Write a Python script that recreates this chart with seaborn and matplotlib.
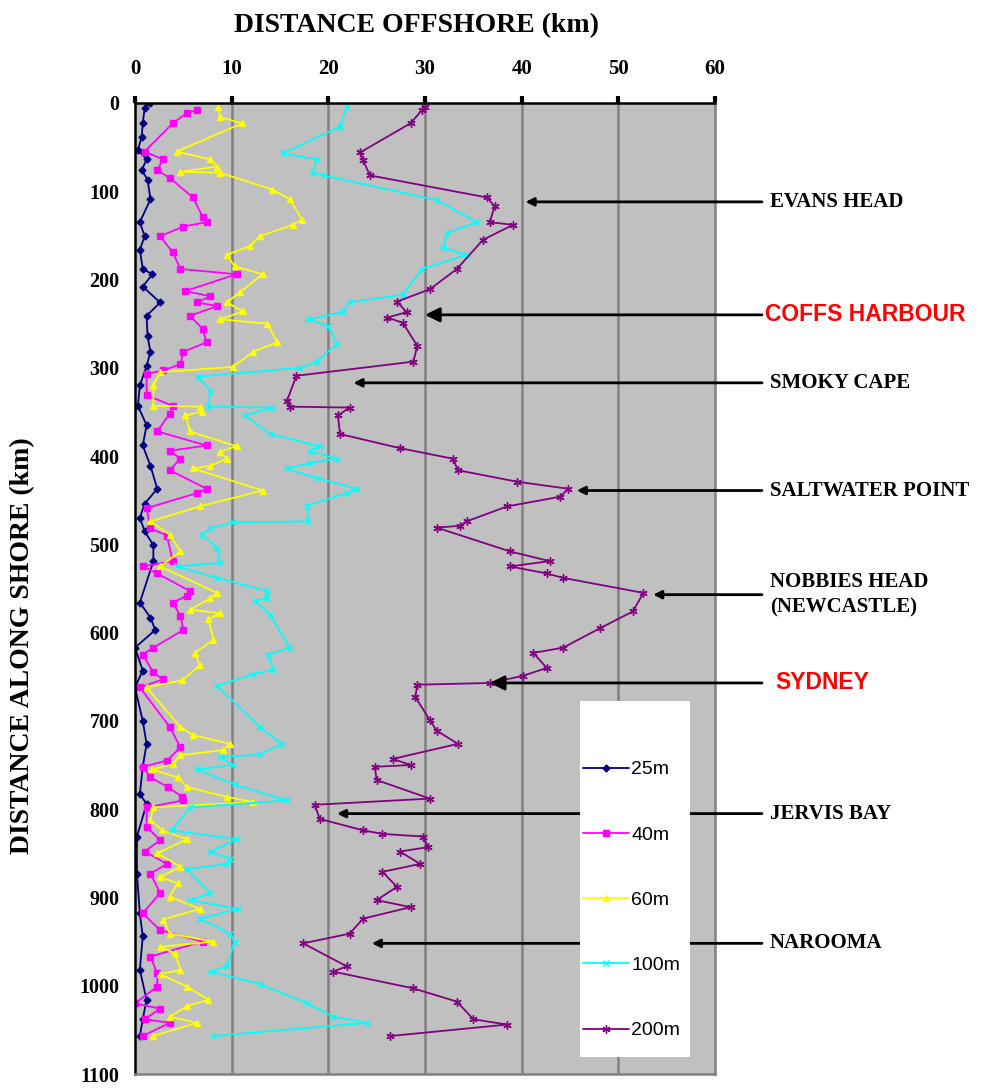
import pandas as pd
import matplotlib.pyplot as plt
import seaborn as sns
from matplotlib.patches import Rectangle

# (distance along shore km, distance offshore km)
depth_25m = [(0, 1.5), (6, 1.0), (23, 0.8), (38, 0.7), (53, 0.3), (64, 1.2), (76, 0.7), (87, 1.3),
             (109, 1.6), (135, 0.5), (151, 1.0), (166, 0.5), (188, 0.8), (194, 1.8), (208, 0.8),
             (226, 2.6), (241, 1.2), (264, 1.3), (282, 1.6), (298, 1.2), (320, 0.5), (343, 0.3),
             (365, 1.2), (388, 0.8), (411, 1.6), (437, 2.3), (454, 1.0), (470, 0.5), (485, 1.0),
             (501, 1.9), (519, 1.9), (566, 0.5), (583, 1.6), (597, 2.1), (617, 0.0), (643, 0.8),
             (662, 0.0), (700, 0.8), (726, 1.2), (752, 0.8), (783, 0.5), (794, 1.2), (831, 0.2),
             (873, 0.2), (918, 0.5), (944, 0.8), (982, 0.5), (1016, 1.2), (1038, 0.8), (1057, 0.5)]

depth_40m = [(8, 6.4), (11, 5.4), (23, 3.9), (55, 1.0), (64, 2.9), (76, 2.3), (85, 3.6), (107, 6.0),
             (129, 7.0), (135, 7.4), (140, 5.0), (151, 2.6), (169, 3.9), (188, 4.7), (194, 10.5),
             (213, 5.2), (219, 7.8), (226, 6.4), (230, 8.5), (241, 5.7), (256, 7.0), (271, 7.4),
             (282, 5.0), (296, 4.7), (303, 2.9), (307, 1.2), (331, 1.2), (343, 3.9), (352, 3.6),
             (372, 2.3), (388, 7.4), (394, 3.6), (403, 4.7), (416, 3.6), (437, 7.4), (442, 6.4),
             (459, 1.2), (482, 1.6), (490, 3.3), (519, 3.9), (525, 0.8), (533, 2.3), (553, 5.7),
             (558, 5.4), (566, 3.9), (581, 4.7), (597, 5.0), (617, 1.9), (625, 0.8), (645, 1.9),
             (653, 2.9), (662, 0.5), (707, 3.6), (730, 4.7), (745, 3.3), (752, 0.8), (764, 1.6),
             (775, 3.4), (786, 4.9), (790, 5.0), (798, 1.2), (820, 1.2), (835, 2.6), (848, 1.0),
             (862, 3.3), (873, 1.6), (895, 2.6), (918, 0.8), (937, 2.6), (950, 7.0), (967, 1.6),
             (986, 2.3), (1001, 2.3), (1020, 0.0), (1026, 2.6), (1038, 1.0), (1042, 3.6), (1057, 0.8)]

depth_60m = [(4, 8.6), (16, 8.8), (23, 11.1), (55, 4.3), (64, 7.8), (72, 8.5), (78, 4.7), (79, 8.8),
             (98, 14.2), (109, 16.0), (132, 17.3), (138, 16.3), (151, 12.9), (162, 11.9), (172, 9.5),
             (185, 10.3), (194, 13.2), (214, 10.9), (226, 9.5), (236, 11.2), (245, 8.8), (250, 13.7),
             (271, 14.7), (282, 12.2), (299, 10.1), (305, 2.6), (320, 1.9), (343, 1.9), (344, 6.7),
             (350, 6.9), (354, 5.2), (372, 5.7), (389, 10.5), (395, 8.8), (403, 9.5), (411, 7.8),
             (414, 6.0), (439, 13.2), (457, 6.7), (474, 1.6), (489, 3.6), (508, 4.7), (525, 2.6),
             (555, 8.5), (561, 7.8), (574, 5.7), (578, 8.8), (585, 7.6), (608, 8.1), (623, 6.2),
             (637, 6.7), (654, 4.9), (662, 1.2), (707, 4.7), (716, 6.0), (726, 9.8), (733, 9.1),
             (739, 4.7), (749, 3.9), (755, 1.8), (764, 4.4), (775, 5.4), (786, 9.5), (792, 12.2),
             (798, 1.9), (812, 1.6), (824, 2.8), (834, 5.4), (850, 2.3), (865, 4.7), (877, 2.6),
             (884, 4.4), (899, 3.6), (913, 6.7), (925, 2.9), (941, 3.6), (950, 8.1), (956, 2.6),
             (963, 4.1), (982, 4.7), (987, 2.6), (1001, 5.4), (1016, 7.6), (1023, 5.4), (1035, 3.6),
             (1042, 6.4), (1057, 1.9)]

depth_100m = [(4, 21.9), (27, 21.2), (57, 15.3), (64, 18.8), (79, 18.4), (82, 19.5), (110, 31.2),
              (135, 35.4), (147, 32.3), (164, 31.9), (172, 34.3), (188, 29.7), (217, 27.7), (226, 22.2),
              (237, 21.5), (245, 17.9), (253, 20.0), (273, 20.9), (293, 18.8), (300, 17.1), (310, 6.5),
              (326, 7.8), (344, 7.6), (345, 14.2), (354, 11.4), (375, 14.0), (389, 19.1), (394, 18.1),
              (403, 20.9), (408, 18.1), (414, 15.7), (425, 18.8), (437, 23.0), (442, 21.9), (456, 17.8),
              (474, 17.9), (475, 10.1), (482, 7.8), (489, 6.9), (504, 8.5), (521, 8.8), (525, 4.3),
              (538, 8.5), (553, 13.7), (561, 13.7), (564, 12.4), (580, 14.0), (617, 16.0), (625, 13.8),
              (642, 14.3), (647, 12.2), (660, 8.5), (707, 12.9), (726, 15.2), (738, 12.9), (741, 8.8),
              (750, 10.1), (755, 6.4), (772, 10.3), (790, 15.7), (798, 5.7), (824, 3.8), (834, 10.6),
              (848, 7.8), (856, 9.8), (862, 9.5), (868, 5.4), (895, 7.8), (903, 5.7), (913, 10.7),
              (924, 6.7), (941, 9.8), (950, 10.3), (978, 9.5), (984, 7.8), (998, 12.9), (1020, 17.8),
              (1035, 20.5), (1042, 24.0), (1057, 8.1)]

depth_200m = [(5, 30.0), (8, 29.7), (23, 28.5), (56, 23.3), (65, 23.6), (82, 24.3), (107, 36.4),
              (117, 37.2), (135, 36.7), (138, 39.1), (155, 36.0), (188, 33.3), (211, 30.5), (225, 27.1),
              (237, 28.1), (243, 26.1), (249, 27.7), (275, 29.2), (293, 28.8), (309, 16.7), (338, 15.7),
              (344, 16.0), (345, 22.2), (354, 21.0), (375, 21.2), (391, 27.4), (403, 32.9), (416, 33.4),
              (429, 39.5), (437, 44.8), (446, 44.0), (457, 38.5), (474, 34.3), (479, 33.6), (481, 31.2),
              (508, 38.8), (519, 42.9), (525, 38.8), (533, 42.6), (538, 44.3), (555, 52.6), (576, 51.5),
              (595, 48.1), (617, 44.3), (623, 41.2), (640, 42.6), (649, 40.1), (657, 36.7), (659, 29.2),
              (673, 29.0), (699, 30.5), (711, 31.2), (726, 33.4), (743, 26.7), (750, 28.5), (752, 24.8),
              (767, 25.0), (788, 30.5), (795, 18.6), (811, 19.1), (824, 23.6), (828, 25.6), (831, 29.8),
              (843, 30.3), (848, 27.4), (862, 29.5), (871, 25.6), (888, 27.1), (903, 25.0), (911, 28.5),
              (924, 23.6), (941, 22.2), (952, 17.4), (978, 21.9), (984, 20.5), (1003, 28.8),
              (1018, 33.3), (1038, 35.0), (1044, 38.5), (1057, 26.4)]

series_labels = ['25m', '40m', '60m', '100m', '200m']
series_colors = ['#000080', '#FF00FF', '#FFFF00', '#00FFFF', '#800080']
series_markers = ['D', 's', '^', 'x', (6, 2, 0)]
series_msize = [3.5, 5, 5, 5, 6]

# place name, (offshore, along) of arrow head, label colour
places = [('EVANS HEAD', 40.4, 112, 'black'),
          ('COFFS HARBOUR', 30.0, 240, 'red'),
          ('SMOKY CAPE', 22.6, 317, 'black'),
          ('SALTWATER POINT', 45.7, 439, 'black'),
          ('NOBBIES HEAD\n(NEWCASTLE)', 53.6, 557, 'black'),
          ('SYDNEY', 36.7, 657, 'red'),
          ('JERVIS BAY', 20.9, 805, 'black'),
          ('NAROOMA', 24.5, 952, 'black')]

sns.set_style('white')
plt.rcParams['font.family'] = ['Liberation Serif', 'DejaVu Serif']
plt.rcParams['text.color'] = 'black'
plt.rcParams['axes.labelcolor'] = 'black'
plt.rcParams['xtick.color'] = 'black'
plt.rcParams['ytick.color'] = 'black'

fig = plt.figure(figsize=(10.02, 10.88), dpi=100)
ax = fig.add_axes([135 / 1002, 14 / 1088, 580 / 1002, 971 / 1088])
ax.set_facecolor('#C0C0C0')

for data, lab, col, mk, ms in zip([depth_25m, depth_40m, depth_60m, depth_100m, depth_200m],
                                  series_labels, series_colors, series_markers, series_msize):
    df = pd.DataFrame(data, columns=['along', 'offshore'])
    sns.lineplot(data=df, x='offshore', y='along', sort=False, estimator=None, ax=ax,
                 color=col, marker=mk, markersize=ms, markeredgecolor=col, markerfacecolor=col,
                 markeredgewidth=1.0, linewidth=1.3, label=lab)

ax.set_xlim(0, 60)
ax.set_ylim(1100, 0)
ax.set_xticks(range(0, 61, 10))
ax.set_yticks(range(0, 1101, 100))
ax.xaxis.tick_top()
ax.xaxis.set_label_position('top')
for x in range(10, 60, 10):
    ax.axvline(x, color='#808080', lw=1.8, zorder=0.5)

ax.tick_params(axis='x', direction='out', length=5, width=3, pad=12, labelsize=15)
ax.tick_params(axis='y', direction='inout', length=10, width=2, pad=6, labelsize=14.5)
for t in ax.get_xticklabels() + ax.get_yticklabels():
    t.set_fontweight('bold')

for s in ['left', 'top']:
    ax.spines[s].set_color('black')
    ax.spines[s].set_linewidth(1.8)
for s in ['right', 'bottom']:
    ax.spines[s].set_color('#808080')
    ax.spines[s].set_linewidth(1.8)

ax.set_xlabel('DISTANCE OFFSHORE (km)', fontsize=20, fontweight='bold')
ax.set_ylabel('DISTANCE ALONG SHORE (km)', fontsize=20, fontweight='bold')
ax.xaxis.set_label_coords(0.486, 1.073)
ax.yaxis.set_label_coords(-0.172, 0.441)

# legend on a white panel
ax.add_patch(Rectangle((0.767, 0.018), 0.19, 0.366, transform=ax.transAxes,
                       facecolor='white', edgecolor='none', zorder=4))
leg = ax.legend(loc='center left', bbox_to_anchor=(0.772, 0.179), frameon=False,
                prop={'family': 'Liberation Sans', 'size': 14}, labelspacing=2.45,
                handlelength=2.4, handletextpad=0.1, borderpad=0, borderaxespad=0)
leg.set_zorder(5)

# annotations with arrows to the right of the plot
tail_px = 762
for name, xo, ya, col in places:
    y_px = ax.transData.transform((xo, ya))[1]
    big = col == 'red'
    ax.annotate('', xy=(xo, ya), xycoords='data', xytext=(tail_px, y_px),
                textcoords='figure pixels', annotation_clip=False,
                arrowprops=dict(arrowstyle='-|>', color='black', lw=2,
                                mutation_scale=22 if big else 12, shrinkA=0, shrinkB=0))
    if col == 'red':
        x_txt = 765 if name.startswith('COFFS') else 775
        fig.text(x_txt / 1002, y_px / 1088, name, color='red', fontsize=16.5,
                 fontweight='bold', family='Liberation Sans', va='center', ha='left')
    else:
        fig.text((tail_px + 8) / 1002, y_px / 1088, name, color='black', fontsize=15,
                 fontweight='bold', va='center', ha='left', linespacing=1.4)

plt.savefig('out.png', dpi=100)
